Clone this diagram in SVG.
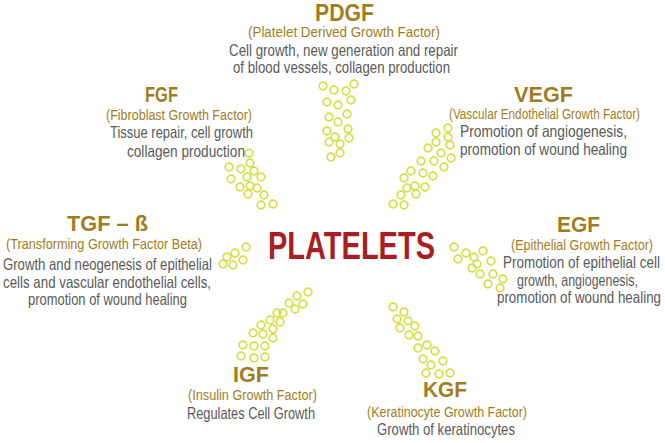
<svg xmlns="http://www.w3.org/2000/svg" width="665" height="443" viewBox="0 0 665 443">
<style>
.t{font-family:"Liberation Sans",Arial,sans-serif;font-weight:bold;fill:#a07e1e;font-size:22px}
.s{font-family:"Liberation Sans",Arial,sans-serif;fill:#a07e1e;font-size:15.5px}
.d{font-family:"Liberation Sans",Arial,sans-serif;fill:#5a5a5a;font-size:16.5px}
.p{font-family:"Liberation Sans",Arial,sans-serif;font-weight:bold;fill:#a81e22;font-size:38px}
.dot{fill:none;stroke:#d6df42;stroke-width:1.7}
</style>
<rect width="665" height="443" fill="#ffffff"/>
<g id="connectors">
<g id="dots-pdgf">
<circle class="dot" cx="323" cy="86" r="3.8"/><circle class="dot" cx="334" cy="90" r="3.8"/><circle class="dot" cx="346" cy="91" r="3.8"/><circle class="dot" cx="354" cy="84" r="3.8"/><circle class="dot" cx="327" cy="102" r="3.8"/><circle class="dot" cx="338" cy="105" r="3.8"/><circle class="dot" cx="351" cy="100" r="3.8"/><circle class="dot" cx="329" cy="117" r="3.8"/><circle class="dot" cx="338" cy="122" r="3.8"/><circle class="dot" cx="347" cy="114" r="3.8"/><circle class="dot" cx="327" cy="131" r="3.8"/><circle class="dot" cx="335" cy="137" r="3.8"/><circle class="dot" cx="348" cy="129" r="3.8"/><circle class="dot" cx="329" cy="142" r="3.8"/><circle class="dot" cx="340" cy="144" r="3.8"/><circle class="dot" cx="349" cy="138" r="3.8"/><circle class="dot" cx="331" cy="157" r="3.8"/><circle class="dot" cx="340" cy="153" r="3.8"/>
</g>
<g id="dots-fgf">
<circle class="dot" cx="249" cy="153" r="3.8"/><circle class="dot" cx="250" cy="163" r="3.8"/><circle class="dot" cx="229" cy="167" r="3.8"/><circle class="dot" cx="241" cy="169" r="3.8"/><circle class="dot" cx="254" cy="171" r="3.8"/><circle class="dot" cx="231" cy="179" r="3.8"/><circle class="dot" cx="247" cy="177" r="3.8"/><circle class="dot" cx="261" cy="177" r="3.8"/><circle class="dot" cx="240" cy="187" r="3.8"/><circle class="dot" cx="250" cy="186" r="3.8"/><circle class="dot" cx="257" cy="188" r="3.8"/><circle class="dot" cx="248" cy="194" r="3.8"/><circle class="dot" cx="264" cy="195" r="3.8"/><circle class="dot" cx="261" cy="205" r="3.8"/><circle class="dot" cx="273" cy="204" r="3.8"/>
</g>
<g id="dots-vegf">
<circle class="dot" cx="448" cy="128" r="3.8"/><circle class="dot" cx="436" cy="133" r="3.8"/><circle class="dot" cx="448" cy="137" r="3.8"/><circle class="dot" cx="436" cy="142" r="3.8"/><circle class="dot" cx="450" cy="145" r="3.8"/><circle class="dot" cx="428" cy="148" r="3.8"/><circle class="dot" cx="441" cy="153" r="3.8"/><circle class="dot" cx="421" cy="161" r="3.8"/><circle class="dot" cx="434" cy="161" r="3.8"/><circle class="dot" cx="451" cy="158" r="3.8"/><circle class="dot" cx="411" cy="171" r="3.8"/><circle class="dot" cx="423" cy="173" r="3.8"/><circle class="dot" cx="444" cy="167" r="3.8"/><circle class="dot" cx="404" cy="178" r="3.8"/><circle class="dot" cx="433" cy="176" r="3.8"/><circle class="dot" cx="415" cy="186" r="3.8"/><circle class="dot" cx="425" cy="187" r="3.8"/><circle class="dot" cx="407" cy="188" r="3.8"/><circle class="dot" cx="416" cy="194" r="3.8"/><circle class="dot" cx="401" cy="195" r="3.8"/><circle class="dot" cx="393" cy="204" r="3.8"/><circle class="dot" cx="404" cy="205" r="3.8"/>
</g>
<g id="dots-tgf">
<circle class="dot" cx="246" cy="247" r="3.8"/><circle class="dot" cx="227" cy="257" r="3.8"/><circle class="dot" cx="235" cy="253" r="3.8"/><circle class="dot" cx="243" cy="260" r="3.8"/><circle class="dot" cx="223" cy="264" r="3.8"/><circle class="dot" cx="233" cy="265" r="3.8"/>
</g>
<g id="dots-egf">
<circle class="dot" cx="454" cy="247" r="3.8"/><circle class="dot" cx="466" cy="253" r="3.8"/><circle class="dot" cx="474" cy="257" r="3.8"/><circle class="dot" cx="483" cy="251" r="3.8"/><circle class="dot" cx="458" cy="259" r="3.8"/><circle class="dot" cx="477" cy="264" r="3.8"/><circle class="dot" cx="491" cy="261" r="3.8"/><circle class="dot" cx="472" cy="268" r="3.8"/><circle class="dot" cx="480" cy="274" r="3.8"/><circle class="dot" cx="493" cy="274" r="3.8"/><circle class="dot" cx="503" cy="279" r="3.8"/><circle class="dot" cx="488" cy="284" r="3.8"/><circle class="dot" cx="500" cy="288" r="3.8"/>
</g>
<g id="dots-igf">
<circle class="dot" cx="308" cy="292" r="3.8"/><circle class="dot" cx="297" cy="296" r="3.8"/><circle class="dot" cx="303" cy="304" r="3.8"/><circle class="dot" cx="289" cy="303" r="3.8"/><circle class="dot" cx="295" cy="309" r="3.8"/><circle class="dot" cx="283" cy="313" r="3.8"/><circle class="dot" cx="277" cy="313" r="3.8"/><circle class="dot" cx="280" cy="322" r="3.8"/><circle class="dot" cx="270" cy="320" r="3.8"/><circle class="dot" cx="273" cy="329" r="3.8"/><circle class="dot" cx="261" cy="325" r="3.8"/><circle class="dot" cx="263" cy="334" r="3.8"/><circle class="dot" cx="253" cy="333" r="3.8"/><circle class="dot" cx="273" cy="338" r="3.8"/><circle class="dot" cx="243" cy="345" r="3.8"/><circle class="dot" cx="254" cy="346" r="3.8"/><circle class="dot" cx="265" cy="346" r="3.8"/><circle class="dot" cx="241" cy="356" r="3.8"/><circle class="dot" cx="254" cy="358" r="3.8"/><circle class="dot" cx="265" cy="357" r="3.8"/>
</g>
<g id="dots-kgf">
<circle class="dot" cx="393" cy="307" r="3.8"/><circle class="dot" cx="404" cy="312" r="3.8"/><circle class="dot" cx="397" cy="319" r="3.8"/><circle class="dot" cx="408" cy="321" r="3.8"/><circle class="dot" cx="400" cy="328" r="3.8"/><circle class="dot" cx="415" cy="326" r="3.8"/><circle class="dot" cx="409" cy="335" r="3.8"/><circle class="dot" cx="418" cy="336" r="3.8"/><circle class="dot" cx="418" cy="348" r="3.8"/><circle class="dot" cx="427" cy="345" r="3.8"/><circle class="dot" cx="435" cy="351" r="3.8"/><circle class="dot" cx="423" cy="359" r="3.8"/><circle class="dot" cx="431" cy="365" r="3.8"/><circle class="dot" cx="443" cy="361" r="3.8"/><circle class="dot" cx="426" cy="373" r="3.8"/><circle class="dot" cx="439" cy="374" r="3.8"/><circle class="dot" cx="450" cy="373" r="3.8"/>
</g>
</g>
<g id="platelets">
<text class="p" x="268" y="259" textLength="167" lengthAdjust="spacingAndGlyphs">PLATELETS</text>
</g>
<g id="pdgf">
<text class="t" x="315" y="21" style="font-size:24px" textLength="59" lengthAdjust="spacingAndGlyphs">PDGF</text>
<text class="s" x="248" y="37" textLength="192" lengthAdjust="spacingAndGlyphs">(Platelet Derived Growth Factor)</text>
<text class="d" x="229" y="56" textLength="229" lengthAdjust="spacingAndGlyphs">Cell growth, new generation and repair</text>
<text class="d" x="233" y="73" textLength="217" lengthAdjust="spacingAndGlyphs">of blood vessels, collagen production</text>
</g>
<g id="fgf">
<text class="t" x="145" y="102" textLength="33" lengthAdjust="spacingAndGlyphs">FGF</text>
<text class="s" x="106" y="120" textLength="146" lengthAdjust="spacingAndGlyphs">(Fibroblast Growth Factor)</text>
<text class="d" x="110" y="138" textLength="143" lengthAdjust="spacingAndGlyphs">Tissue repair, cell growth</text>
<text class="d" x="127" y="157" textLength="118" lengthAdjust="spacingAndGlyphs">collagen production</text>
</g>
<g id="vegf">
<text class="t" x="514" y="102" textLength="59" lengthAdjust="spacingAndGlyphs">VEGF</text>
<text class="s" x="449" y="119" textLength="191" lengthAdjust="spacingAndGlyphs">(Vascular Endothelial Growth Factor)</text>
<text class="d" x="460" y="137" textLength="167" lengthAdjust="spacingAndGlyphs">Promotion of angiogenesis,</text>
<text class="d" x="460" y="155" textLength="167" lengthAdjust="spacingAndGlyphs">promotion of wound healing</text>
</g>
<g id="tgf">
<text class="t" x="67" y="231" textLength="81" lengthAdjust="spacingAndGlyphs">TGF – ß</text>
<text class="s" x="6" y="249" textLength="196" lengthAdjust="spacingAndGlyphs">(Transforming Growth Factor Beta)</text>
<text class="d" x="3" y="270" textLength="209" lengthAdjust="spacingAndGlyphs">Growth and neogenesis of epithelial</text>
<text class="d" x="3" y="288" textLength="208" lengthAdjust="spacingAndGlyphs">cells and vascular endothelial cells,</text>
<text class="d" x="28" y="305" textLength="159" lengthAdjust="spacingAndGlyphs">promotion of wound healing</text>
</g>
<g id="egf">
<text class="t" x="557" y="232" textLength="43" lengthAdjust="spacingAndGlyphs">EGF</text>
<text class="s" x="511" y="250" textLength="142" lengthAdjust="spacingAndGlyphs">(Epithelial Growth Factor)</text>
<text class="d" x="503" y="268" textLength="157" lengthAdjust="spacingAndGlyphs">Promotion of epithelial cell</text>
<text class="d" x="517" y="286" textLength="121" lengthAdjust="spacingAndGlyphs">growth, angiogenesis,</text>
<text class="d" x="497" y="303" textLength="164" lengthAdjust="spacingAndGlyphs">promotion of wound healing</text>
</g>
<g id="igf">
<text class="t" x="233" y="382" textLength="36" lengthAdjust="spacingAndGlyphs">IGF</text>
<text class="s" x="188" y="400" textLength="129" lengthAdjust="spacingAndGlyphs">(Insulin Growth Factor)</text>
<text class="d" x="187" y="419" textLength="128" lengthAdjust="spacingAndGlyphs">Regulates Cell Growth</text>
</g>
<g id="kgf">
<text class="t" x="423" y="397" textLength="44" lengthAdjust="spacingAndGlyphs">KGF</text>
<text class="s" x="367" y="417" textLength="160" lengthAdjust="spacingAndGlyphs">(Keratinocyte Growth Factor)</text>
<text class="d" x="377" y="435" textLength="138" lengthAdjust="spacingAndGlyphs">Growth of keratinocytes</text>
</g>
</svg>
